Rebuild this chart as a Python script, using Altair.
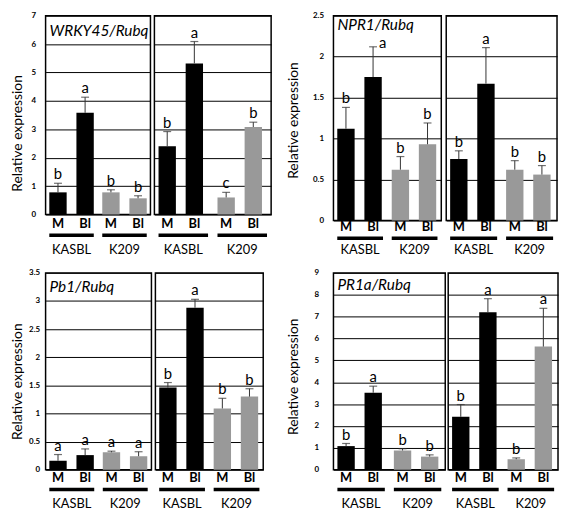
import altair as alt
import pandas as pd

FONT = "Lato"

# ---- data -------------------------------------------------------------
groups = ["KASBL", "KASBL", "K209", "K209"]
conds = ["M", "Bl", "M", "Bl"]

wrky_left_mean = [0.78, 3.58, 0.78, 0.57]
wrky_left_err = [0.32, 0.55, 0.09, 0.09]
wrky_left_let = ["b", "a", "b", "b"]
wrky_right_mean = [2.40, 5.32, 0.60, 3.08]
wrky_right_err = [0.52, 0.77, 0.18, 0.17]
wrky_right_let = ["b", "a", "c", "b"]

npr1_left_mean = [1.12, 1.75, 0.62, 0.93]
npr1_left_err = [0.26, 0.37, 0.16, 0.26]
npr1_left_let = ["b", "a", "b", "b"]
npr1_right_mean = [0.75, 1.67, 0.62, 0.56]
npr1_right_err = [0.10, 0.44, 0.11, 0.11]
npr1_right_let = ["b", "a", "b", "b"]

pb1_left_mean = [0.16, 0.26, 0.31, 0.24]
pb1_left_err = [0.11, 0.11, 0.02, 0.08]
pb1_left_let = ["a", "a", "a", "a"]
pb1_right_mean = [1.46, 2.88, 1.09, 1.30]
pb1_right_err = [0.09, 0.15, 0.18, 0.14]
pb1_right_let = ["b", "a", "b", "b"]

pr1a_left_mean = [1.08, 3.52, 0.88, 0.60]
pr1a_left_err = [0.12, 0.30, 0.08, 0.08]
pr1a_left_let = ["b", "a", "b", "b"]
pr1a_right_mean = [2.42, 7.20, 0.48, 5.63]
pr1a_right_err = [0.56, 0.62, 0.06, 1.75]
pr1a_right_let = ["b", "a", "b", "a"]

wrky_ticks = [0, 1, 2, 3, 4, 5, 6, 7]
npr1_ticks = [0, 0.5, 1, 1.5, 2, 2.5]
pb1_ticks = [0, 0.5, 1, 1.5, 2, 2.5, 3, 3.5]
pr1a_ticks = [0, 1, 2, 3, 4, 5, 6, 7, 8, 9]


def sub(mean, err, letters, ticks, width, height, offs, axis_opts=None,
        title=None, title_y=19):
    tops = [m + e for m, e in zip(mean, err)]
    ymax = ticks[-1]
    # a letter that would run into the panel title is set beside its error bar
    side = ["right" if (title is not None and t > 0.82 * ymax) else "top" for t in tops]
    df = pd.DataFrame({
        "group": groups,
        "cond": conds,
        "mean": mean,
        "top": tops,
        "letter": letters,
        "side": side,
    })
    gdf = pd.DataFrame({"group": ["KASBL", "K209"]})
    xs = alt.X("group:N", sort=["KASBL", "K209"],
               scale=alt.Scale(paddingInner=0.16, paddingOuter=0.07), axis=None)
    xo = alt.XOffset("cond:N", sort=["M", "Bl"],
                     scale=alt.Scale(paddingInner=0.36, paddingOuter=0))
    color = alt.Color("group:N", scale=alt.Scale(domain=["KASBL", "K209"],
                                                 range=["#000000", "#999999"]),
                      legend=None)
    yscale = alt.Scale(domain=[ticks[0], ymax], nice=False)
    if axis_opts is not None:
        yaxis = alt.Axis(values=ticks, format="~g", grid=True, gridColor="black",
                         gridWidth=1, gridOpacity=1, domain=False, ticks=False,
                         labelOverlap=False,
                         labelFont=FONT, labelFontWeight="bold", labelFontSize=8,
                         labelColor="black", labelPadding=axis_opts[0],
                         minExtent=axis_opts[1], maxExtent=axis_opts[1],
                         title="Relative expression", titleFont=FONT,
                         titleFontSize=14, titleFontWeight="normal",
                         titleColor="black", titlePadding=axis_opts[2],
                         titleY=height / 2 + axis_opts[3])
    else:
        yaxis = alt.Axis(values=ticks, grid=True, gridColor="black", gridWidth=1,
                         gridOpacity=1, labels=False, ticks=False, domain=False,
                         title=None, minExtent=0, maxExtent=0)
    base = alt.Chart(df)
    ychan = lambda f: alt.Y(f, scale=yscale, axis=yaxis)
    bars = base.mark_bar().encode(x=xs, xOffset=xo, y=ychan("mean:Q"), color=color)
    rule = base.mark_rule(color="#333333", strokeWidth=1).encode(
        x=xs, xOffset=xo, y=ychan("mean:Q"), y2="top:Q")
    cap = base.mark_tick(color="#333333", thickness=1.2, size=8).encode(
        x=xs, xOffset=xo, y=ychan("top:Q"))
    lets_top = base.transform_filter(alt.datum.side == "top").mark_text(
        font=FONT, fontSize=15, dy=-4, baseline="alphabetic", color="black").encode(
        x=xs, xOffset=xo, y=ychan("top:Q"), text="letter:N")
    lets_right = base.transform_filter(alt.datum.side == "right").mark_text(
        font=FONT, fontSize=15, dx=6, dy=1, align="left", baseline="alphabetic",
        color="black").encode(
        x=xs, xOffset=xo, y=ychan("top:Q"), text="letter:N")
    clab = base.mark_text(font=FONT, fontSize=13, fontWeight="bold",
                          baseline="middle", color="black").encode(
        x=xs, xOffset=xo, y=alt.value(height + offs[0]), text="cond:N")
    gline = alt.Chart(gdf).mark_bar(color="black").encode(
        x=xs, y=alt.value(height + offs[1] - 1.8), y2=alt.value(height + offs[1] + 1.8))
    glab = alt.Chart(gdf).mark_text(font=FONT, fontSize=13, baseline="middle",
                                    color="black").encode(
        x=xs, y=alt.value(height + offs[2]), text="group:N")
    layers = [bars, rule, cap, lets_top, lets_right, clab, gline, glab]
    if title is not None:
        tdf = pd.DataFrame({"t": [title]})
        ttl = alt.Chart(tdf).mark_text(font=FONT, fontSize=15.5, fontStyle="italic",
                                       align="left", baseline="alphabetic",
                                       color="black").encode(
            x=alt.value(4), y=alt.value(title_y), text="t:N")
        layers.append(ttl)
    return alt.layer(*layers).properties(width=width, height=height)


off_top_l = (10, 21, 36)
off_top_r = (7, 18, 30)
off_bot = (8, 20, 35)

p1 = alt.hconcat(
    sub(wrky_left_mean, wrky_left_err, wrky_left_let, wrky_ticks, 106, 201, off_top_l,
        axis_opts=(10, 14, 7, 18), title="WRKY45/Rubq", title_y=21),
    sub(wrky_right_mean, wrky_right_err, wrky_right_let, wrky_ticks, 118, 201, off_top_l),
    spacing=2)
p2 = alt.hconcat(
    sub(npr1_left_mean, npr1_left_err, npr1_left_let, npr1_ticks, 109, 207, off_top_r,
        axis_opts=(10, 21, 12, 2), title="NPR1/Rubq", title_y=14),
    sub(npr1_right_mean, npr1_right_err, npr1_right_let, npr1_ticks, 112, 207, off_top_r),
    spacing=3)
p3 = alt.hconcat(
    sub(pb1_left_mean, pb1_left_err, pb1_left_let, pb1_ticks, 107, 199, off_bot,
        axis_opts=(6, 14, 7, 10), title="Pb1/Rubq", title_y=19),
    sub(pb1_right_mean, pb1_right_err, pb1_right_let, pb1_ticks, 109, 199, off_bot),
    spacing=2)
p4 = alt.hconcat(
    sub(pr1a_left_mean, pr1a_left_err, pr1a_left_let, pr1a_ticks, 113, 199, off_bot,
        axis_opts=(15, 21, 12, 5), title="PR1a/Rubq", title_y=17),
    sub(pr1a_right_mean, pr1a_right_err, pr1a_right_let, pr1a_ticks, 111, 199, off_bot),
    spacing=1)

left_col = alt.vconcat(p1, p3, spacing=10)
right_col = alt.vconcat(p2, p4, spacing=10)

chart = alt.hconcat(left_col, right_col, spacing=14).properties(
    padding={"left": 2, "top": 0, "right": 0, "bottom": 0}
).configure_view(stroke="black", strokeWidth=1.5)

chart.save("out.html", embed_options={"renderer": "svg", "actions": False})
